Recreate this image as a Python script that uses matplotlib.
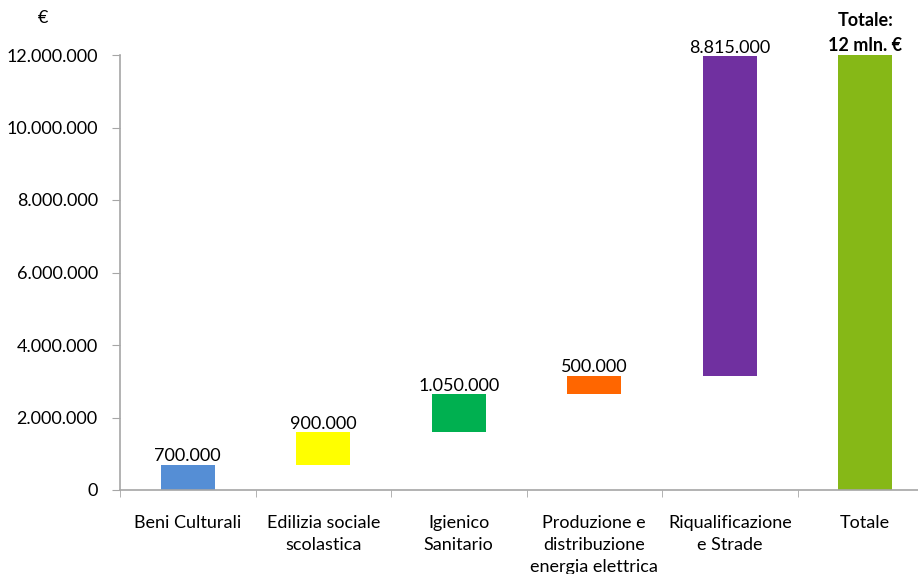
import numpy as np
import matplotlib.pyplot as plt
from matplotlib.ticker import FuncFormatter, FixedLocator

plt.rcParams['font.family'] = ['Lato', 'DejaVu Sans']

categories = ["Beni Culturali", "Edilizia sociale\nscolastica", "Igienico\nSanitario",
              "Produzione e\ndistribuzione\nenergia elettrica", "Riqualificazione\ne Strade", "Totale"]
values = [700000, 900000, 1050000, 500000, 8815000]
value_labels = ["700.000", "900.000", "1.050.000", "500.000", "8.815.000"]
total = 12000000
colors = ["#558ED5", "#FFFF00", "#00B050", "#FF6600", "#7030A0", "#86B817"]

bottoms = np.concatenate([[0], np.cumsum(values)[:-1]])

fig = plt.figure(figsize=(9.18, 5.74), dpi=100)
ax = fig.add_axes([120 / 918, 1 - 490 / 574, 813 / 918, 435 / 574])

x = np.arange(len(categories))
ax.bar(x[:-1], values, bottom=bottoms, width=0.4, color=colors[:-1])
ax.bar(x[-1], total, width=0.4, color=colors[-1])

for i in range(len(values)):
    ax.text(x[i], bottoms[i] + values[i] + 10000, value_labels[i], ha='center', va='bottom',
            fontsize=13, color='black')
ax.text(x[-1], total + 40000, "Totale:\n12 mln. €", ha='center', va='bottom',
        fontsize=13, fontweight='bold', linespacing=1.55)

ax.set_xlim(-0.5, len(categories) - 0.5)
ax.set_ylim(0, 12000000)
ax.set_yticks(np.arange(0, 12000001, 2000000))
ax.yaxis.set_major_formatter(FuncFormatter(lambda v, p: f"{int(v):,}".replace(",", ".")))
ax.set_xticks(x)
ax.set_xticklabels(categories, fontsize=13, linespacing=1.45, va='top')
ax.xaxis.set_minor_locator(FixedLocator(np.arange(-0.5, len(categories), 1.0)))
ax.tick_params(axis='x', which='major', length=0, pad=18)
ax.tick_params(axis='x', which='minor', length=5, color='#A6A6A6', direction='out')
ax.tick_params(axis='y', length=6, color='#A6A6A6', labelsize=13, pad=10)

for s in ['top', 'right']:
    ax.spines[s].set_visible(False)
for s in ['left', 'bottom']:
    ax.spines[s].set_color('#A6A6A6')
    ax.spines[s].set_linewidth(1.2)

fig.text(43 / 918, 1 - 18 / 574, "€", ha='center', va='center', fontsize=13)

fig.savefig("out.png", dpi=100)
